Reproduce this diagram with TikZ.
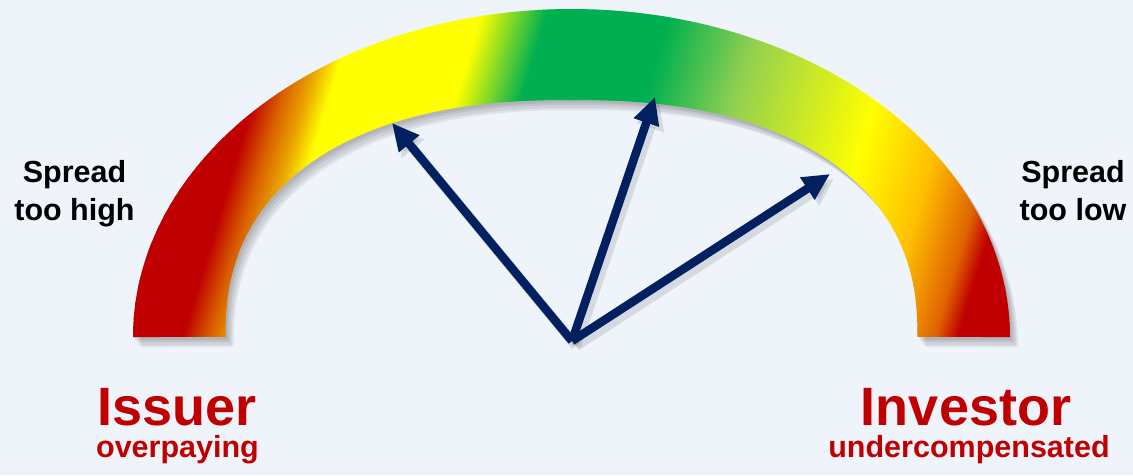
\documentclass[tikz,border=0pt]{standalone}
\usepackage{fontspec}
\setmainfont{Liberation Sans}
\usetikzlibrary{arrows.meta}
\definecolor{bg}{RGB}{239,243,250}
\definecolor{navy}{RGB}{0,32,96}
\definecolor{cRed}{RGB}{192,0,0}
\definecolor{cOrA}{RGB}{216,96,0}
\definecolor{cOrB}{RGB}{235,165,0}
\definecolor{cYel}{RGB}{255,255,0}
\definecolor{cGrn}{RGB}{0,176,80}
\definecolor{cLGrn}{RGB}{146,208,80}
\definecolor{cGold}{RGB}{255,192,0}
\definecolor{cOrC}{RGB}{224,100,0}
\definecolor{txtred}{RGB}{192,0,0}
\def\bandpath{plot[domain=180:0,samples=121,variable=\t] ({571.5+438.5*cos(\t)},{337-328*sin(\t)}) -- plot[domain=0:180,samples=121,variable=\t] ({571.5+346*cos(\t)*pow(abs(cos(\t))+0.00001,-0.149)},{337-237*pow(abs(sin(\t))+0.00001,0.851)}) -- cycle}
\begin{document}
\begin{tikzpicture}[x=1pt,y=-1pt,
  needle/.style={draw=navy, line width=8.5pt, -{Triangle[length=27pt,width=25pt]}},
  needleshadow/.style={draw=black, opacity=0.10, line width=10pt, -{Triangle[length=27pt,width=27pt]}},
  sidetext/.style={font=\fontsize{30.5}{36}\selectfont\bfseries, text=black, inner sep=0pt, anchor=base},
  bigtext/.style={font=\fontsize{54}{60}\selectfont\bfseries, text=txtred, inner sep=0pt, anchor=base},
  subtext/.style={font=\fontsize{30.5}{36}\selectfont\bfseries, text=txtred, inner sep=0pt, anchor=base}]
\fill[bg] (0,0) rectangle (1133,475);
\useasboundingbox (0,0) rectangle (1133,475);
% band shadow
\foreach \dx/\dy in {2/3,4/5,6/8,8/10}{
  \begin{scope}[shift={(\dx,\dy)}]
    \fill[black, opacity=0.07] \bandpath;
  \end{scope}
}
% gradient band
\begin{scope}
  \clip \bandpath;
  \foreach \ua/\ub/\ca/\cb in {80/183/cRed/cRed, 183/210/cRed/cOrA, 210/235/cOrA/cOrB, 235/258/cOrB/cYel, 258/385/cYel/cYel, 385/450/cYel/cGrn, 450/574/cGrn/cGrn, 574/665/cGrn/cLGrn, 665/805/cLGrn/cYel, 805/880/cYel/cGold, 880/935/cGold/cOrC, 935/958/cOrC/cRed, 958/1120/cRed/cRed}{
    \pgfmathtruncatemacro{\n}{max(1,round((\ub-\ua)/2.5))}
    \foreach \i in {1,...,\n}{
      \pgfmathsetmacro{\uA}{\ua+(\ub-\ua)*(\i-1)/\n-2.4}
      \pgfmathsetmacro{\uB}{\ua+(\ub-\ua)*\i/\n-1.8}
      \pgfmathsetmacro{\p}{100*(\i-0.5)/\n}
      \fill[\cb!\p!\ca] (\uA,345) -- (\uB,345) -- ({\uB+105},-5) -- ({\uA+105},-5) -- cycle;
    }
  }
\end{scope}
% needles
\coordinate (o) at (572,341);
\coordinate (t1) at (392,123);
\coordinate (t2) at (655,97);
\coordinate (t3) at (830,174);
\foreach \t in {t1,t2,t3}{
  \draw[needleshadow] ([shift={(4,5)}]o) -- ([shift={(4,5)}]\t);
}
\draw[needle] (o) -- (t1);
\draw[needle] (o) -- (t2);
\draw[needle] (o) -- (t3);
% texts
\node[sidetext] (hi1) at (74.5,182) {Spread};
\node[sidetext] (hi2) at (74.5,220) {too high};
\node[sidetext] (lo1) at (1073,182) {Spread};
\node[sidetext] (lo2) at (1073,220) {too low};
\node[bigtext] (iss) at (177,425) {Issuer};
\node[subtext] (ovp) at (177.5,457) {overpaying};
\node[bigtext] (inv) at (966,425) {Investor};
\node[subtext] (und) at (969,457) {undercompensated};
\end{tikzpicture}
\end{document}
